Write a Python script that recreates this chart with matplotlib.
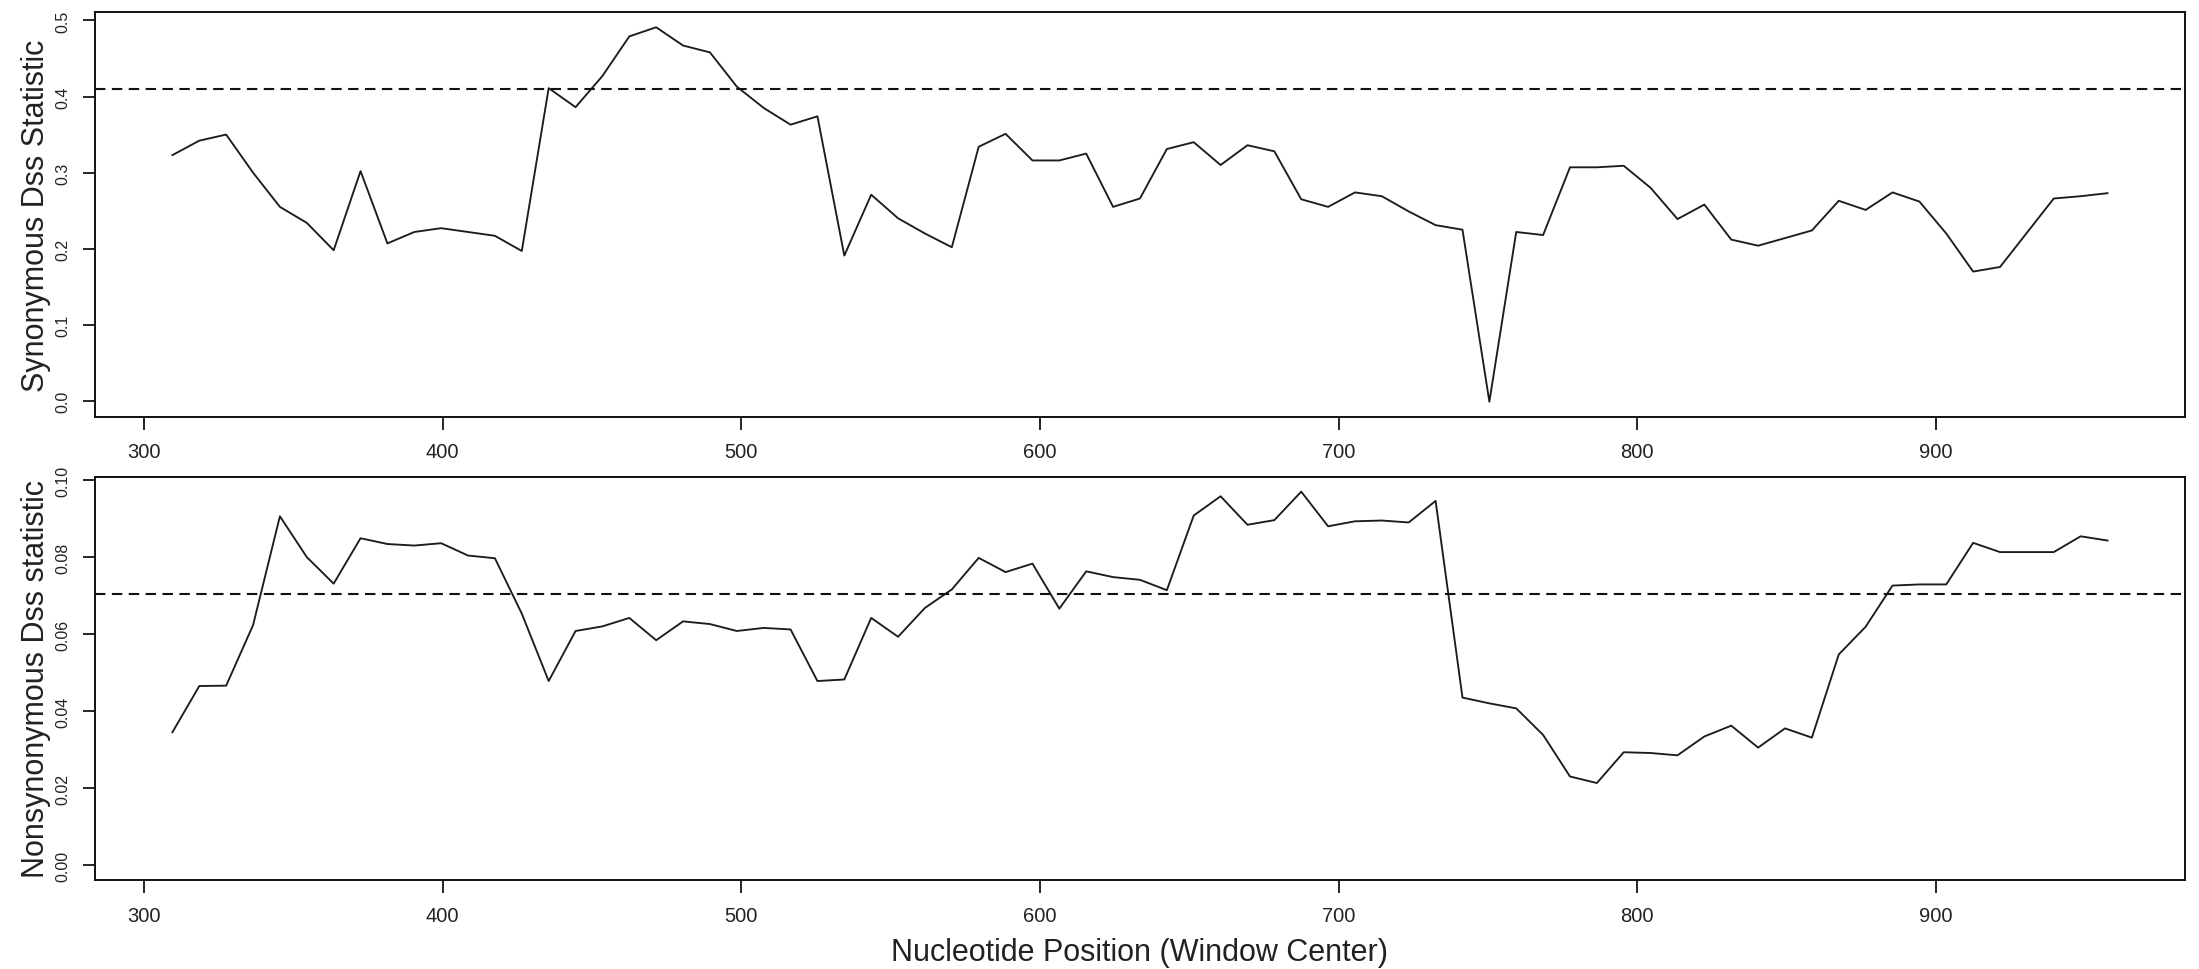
import numpy as np
import matplotlib
matplotlib.use("Agg")
import matplotlib.pyplot as plt

plt.rcParams['font.family'] = ['Liberation Sans', 'DejaVu Sans']

# window centres, step 9 nt
window_start = 309.5
window_step = 9
n_windows = 73
positions = window_start + window_step * np.arange(n_windows)

# synonymous Dss per window
syn_dss = [0.323, 0.342, 0.350, 0.300, 0.255, 0.234, 0.198, 0.302, 0.207, 0.222,
           0.227, 0.222, 0.217, 0.197, 0.411, 0.386, 0.427, 0.479, 0.491, 0.467,
           0.458, 0.413, 0.385, 0.363, 0.374, 0.191, 0.271, 0.240, 0.220, 0.202,
           0.334, 0.351, 0.316, 0.316, 0.325, 0.255, 0.266, 0.331, 0.340, 0.310,
           0.336, 0.328, 0.265, 0.255, 0.274, 0.269, 0.249, 0.231, 0.225, -0.001,
           0.222, 0.218, 0.307, 0.307, 0.309, 0.280, 0.239, 0.258, 0.212, 0.204,
           0.214, 0.224, 0.263, 0.251, 0.274, 0.262, 0.220, 0.170, 0.176, 0.221,
           0.266, 0.269, 0.273]

# nonsynonymous Dss per window
nonsyn_dss = [0.0345, 0.0465, 0.0466, 0.0623, 0.0906, 0.0800, 0.0731, 0.0849, 0.0834, 0.0830,
              0.0836, 0.0804, 0.0797, 0.0653, 0.0478, 0.0608, 0.0620, 0.0642, 0.0584, 0.0633,
              0.0626, 0.0608, 0.0616, 0.0612, 0.0478, 0.0482, 0.0642, 0.0593, 0.0668, 0.0716,
              0.0798, 0.0761, 0.0783, 0.0666, 0.0763, 0.0748, 0.0741, 0.0714, 0.0908, 0.0958,
              0.0884, 0.0896, 0.0970, 0.0880, 0.0893, 0.0895, 0.0890, 0.0946, 0.0435, 0.0420,
              0.0407, 0.0338, 0.0230, 0.0213, 0.0293, 0.0291, 0.0285, 0.0334, 0.0362, 0.0305,
              0.0355, 0.0331, 0.0547, 0.0619, 0.0726, 0.0729, 0.0729, 0.0837, 0.0813, 0.0813,
              0.0813, 0.0854, 0.0843]

# significance cut-offs
syn_cutoff = 0.410
nonsyn_cutoff = 0.0703

x_ticks = [300, 400, 500, 600, 700, 800, 900]
syn_ticks = [0.0, 0.1, 0.2, 0.3, 0.4, 0.5]
syn_ticklabels = ["0.0", "0.1", "0.2", "0.3", "0.4", "0.5"]
nonsyn_ticks = [0.00, 0.02, 0.04, 0.06, 0.08, 0.10]
nonsyn_ticklabels = ["0.00", "0.02", "0.04", "0.06", "0.08", "0.10"]


def r_range(lo, hi):
    # base R pads the axis range by 4%
    pad = (hi - lo) * 0.04
    return lo - pad, hi + pad


def panel(ax, y, cutoff, ylim, yticks, yticklabels):
    ax.plot(positions, y, color="#1c1c1c", lw=1.35)
    ax.axhline(cutoff, color="#111111", lw=1.5, dashes=(5.0, 3.1))
    ax.set_xlim(r_range(positions.min(), positions.max()))
    ax.set_ylim(ylim)
    ax.set_xticks(x_ticks)
    ax.set_xticklabels([str(t) for t in x_ticks], fontsize=14.5, color="#222222")
    ax.set_yticks(yticks)
    ax.set_yticklabels(yticklabels, rotation=90, va="center", fontsize=11.5, color="#222222")
    ax.tick_params(axis="x", length=9.4, width=1.2, pad=9, direction="out")
    ax.tick_params(axis="y", length=9, width=1.2, pad=8.5, direction="out")
    for s in ax.spines.values():
        s.set_linewidth(1.4)
        s.set_color("#111111")


fig = plt.figure(figsize=(21.99, 9.70), dpi=100)

ax1 = fig.add_axes([0.0432, 0.5694, 0.9504, 0.4169])
panel(ax1, syn_dss, syn_cutoff, r_range(min(syn_dss), max(syn_dss)),
      syn_ticks, syn_ticklabels)

ax2 = fig.add_axes([0.0432, 0.0918, 0.9504, 0.4157])
panel(ax2, nonsyn_dss, nonsyn_cutoff, r_range(0, max(nonsyn_dss)),
      nonsyn_ticks, nonsyn_ticklabels)

fig.text(0.0164, 0.778, "Synonymous Dss Statistic", rotation=90,
         ha="center", va="center", fontsize=22, color="#222222")
fig.text(0.0164, 0.300, "Nonsynonymous Dss statistic", rotation=90,
         ha="center", va="center", fontsize=22, color="#222222")
fig.text(0.518, 1 - 953 / 970, "Nucleotide Position (Window Center)",
         ha="center", va="center", fontsize=22, color="#222222")

fig.savefig("out.png", dpi=100, facecolor="white")
